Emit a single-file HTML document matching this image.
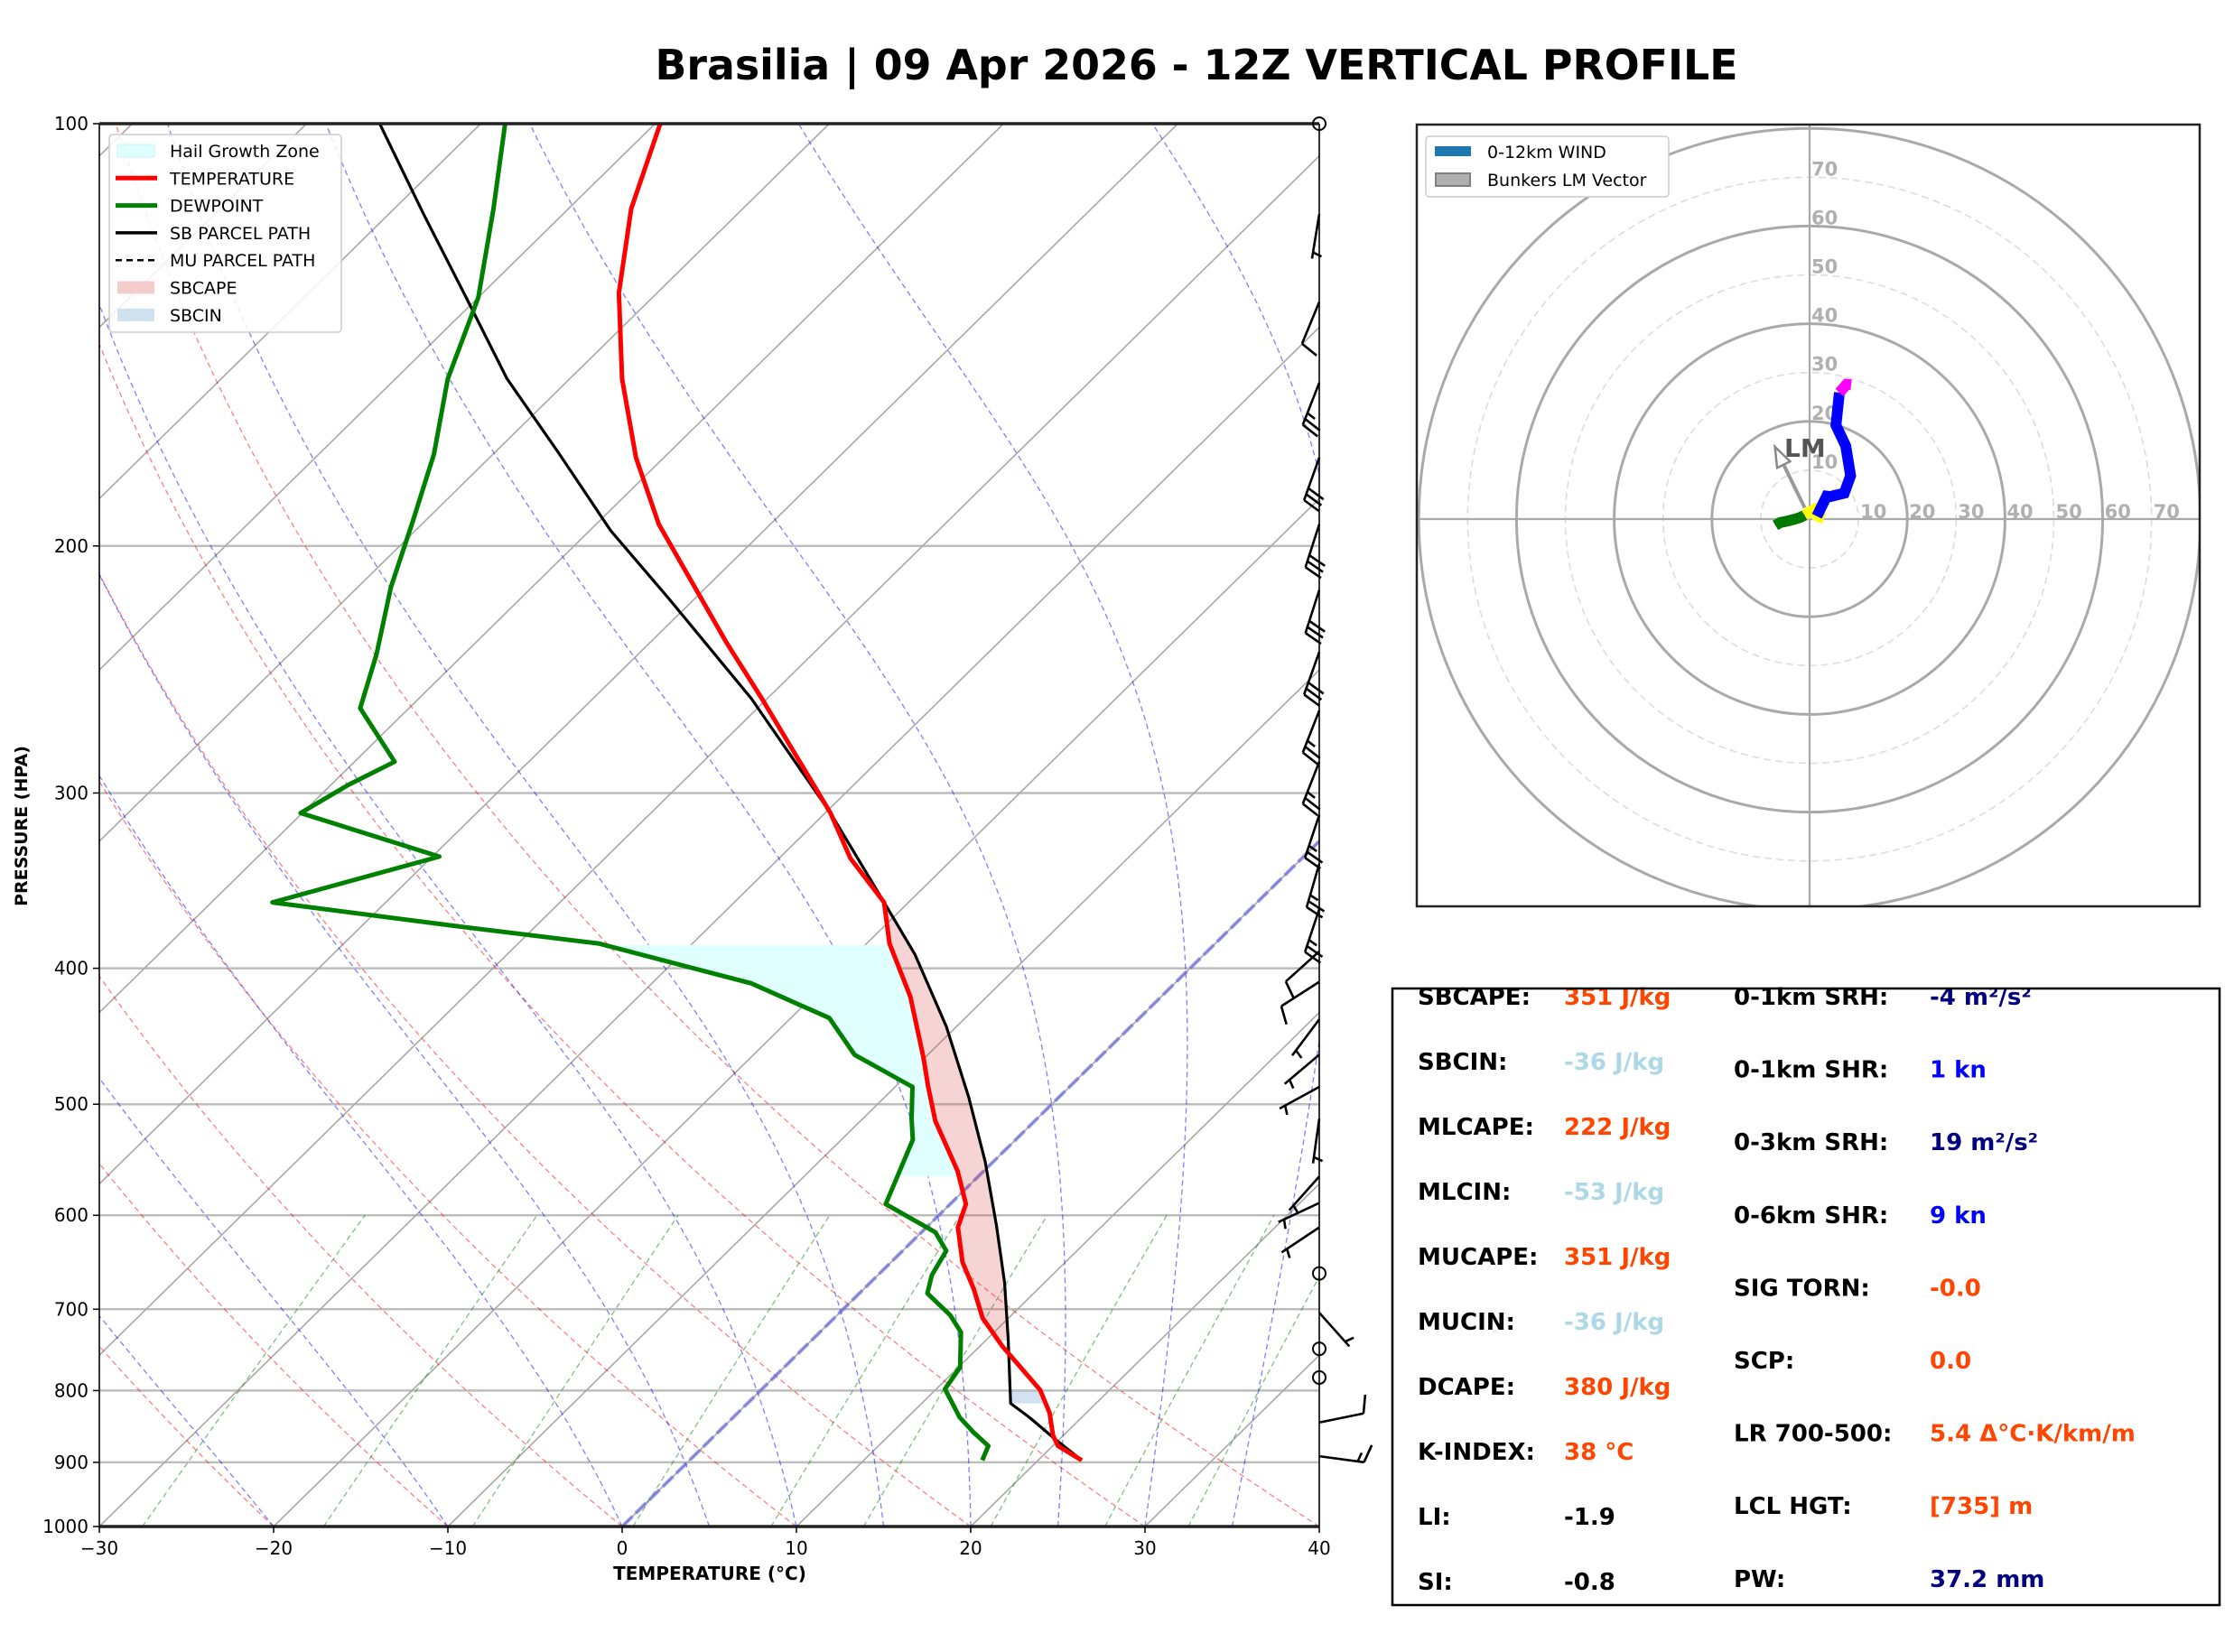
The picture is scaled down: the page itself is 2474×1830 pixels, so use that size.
<!DOCTYPE html>
<html><head><meta charset="utf-8"><style>
html,body{margin:0;padding:0;background:#fff;}
svg{display:block;font-family:"DejaVu Sans","Liberation Sans",sans-serif;}
</style></head><body>
<svg id="fig" width="2474" height="1830" viewBox="0 0 2474 1830" xmlns="http://www.w3.org/2000/svg">
<rect x="0" y="0" width="2474" height="1830" fill="#fff"/>
<text x="1325" y="88" text-anchor="middle" font-size="46" font-weight="bold" textLength="1199" lengthAdjust="spacingAndGlyphs">Brasilia | 09 Apr 2026 - 12Z VERTICAL PROFILE</text>
<defs>
<clipPath id="skewclip"><rect x="110" y="137" width="1351" height="1554"/></clipPath>
<clipPath id="hodoclip"><rect x="1569" y="138" width="867" height="866"/></clipPath>
</defs>
<g id="skewt"></g>
<g id="hodo"></g>
<g id="stats"></g>
</svg>
<script>
// ---------- data ----------
const tempP=[897,876,861,830,799,744,710,677,648,612,589,558,514,486,463,419,384,359,334,310,257,234,193,173,152,132,115,100];
const tempT=[22.5,20.3,19.4,17.9,16.0,11.3,8.5,6.3,4.1,1.8,0.9,-1.5,-5.7,-8.1,-10.1,-14.4,-18.7,-21.4,-25.9,-29.7,-40.3,-45.7,-56.4,-61.6,-67.0,-72.2,-76.4,-79.7];
const dewP=[897,876,856,836,798,770,727,707,682,662,636,617,589,530,512,486,461,434,410,384,373,359,333,310,296,285,261,239,214,192,172,152,133,115,100];
const dewT=[16.8,16.3,14.6,13.0,10.5,10.1,8.1,6.5,3.9,3.1,2.5,0.8,-3.7,-5.9,-7.2,-9.0,-14.2,-17.8,-24.3,-35.4,-44.8,-56.5,-49.6,-60.1,-59.0,-57.7,-62.8,-65.0,-68.1,-70.7,-73.4,-77.0,-80.0,-84.3,-88.6];
const parcelP=[897,866,836,817,735,670,610,549,494,440,391,359,310,257,218,195,172,152,133,116,100];
const parcelT=[22.5,19.7,17.0,15.1,11.2,7.7,3.9,-0.5,-5.2,-10.6,-16.6,-21.4,-29.7,-40.9,-51.5,-58.8,-66.2,-73.6,-80.7,-88.0,-95.8];
const barbP=[116,134,153,173,193,215,238,262,285,311,337,363,389,409,435,461,486,512,563,588,612,704,843,891];
const barbU=[0.8,3.8,9,10,9,9,10,9,9,8,7,8,7.4,8.4,3,3.8,4.4,0.7,3.3,4.5,4.2,-3.3,-9.8,-14.8];
const barbV=[4.9,9.2,23,28,28,28,28,23,23,24,24,24,6.7,5.4,4,3.2,2.4,5,3.7,2.1,2.8,3.7,-2,2];
const calmP=[100,660,747,783];
const pressureTicks=[100,200,300,400,500,600,700,800,900,1000];
const tempTicks=[-30,-20,-10,0,10,20,30,40];
const hodoGreenU=[-7,-6,-4.5,-3,-2,-1];
const hodoGreenV=[-1.3,-0.7,-0.4,0,0.3,0.8];
const hodoYellowU=[-1,0,1,2,1.5];
const hodoYellowV=[0.8,1.5,2,0.7,-0.5];
const hodoBlueU=[1.5,2,3.5,4.2,7.1,8.4,7.4,5.4,6.1];
const hodoBlueV=[0.6,1.6,4.7,4.6,5.3,8.9,15,19.2,25.9];
const hodoMagU=[6.1,7.6,8.5];
const hodoMagV=[25.9,27.6,27.5];
const lmVector=[-7.1,14.8];
const hodoRings=[10,20,30,40,50,60,70,80];
const hodoLabels=[10,20,30,40,50,60,70];

const NS="http://www.w3.org/2000/svg";
function mk(tag,attrs,parent,text){const e=document.createElementNS(NS,tag);for(const k in attrs)e.setAttribute(k,attrs[k]);if(text!==undefined)e.textContent=text;parent.appendChild(e);return e;}

// ---------- skew-T axes ----------
const X0=110,X1=1461,Y0=137,Y1=1691,PXC=19.3,DEC=1554,SKEW=1.017;
function yP(p){return Y1-Math.log10(1000/p)*DEC;}
function xT(T,p){return X0+(T+30)*PXC+(Y1-yP(p))*SKEW;}
const sk=document.getElementById('skewt');
const bg=mk('g',{'clip-path':'url(#skewclip)'},sk);


function line(pts,attrs,parent){return mk('polyline',Object.assign({points:pts.map(q=>q[0].toFixed(1)+','+q[1].toFixed(1)).join(' '),fill:'none'},attrs),parent);}
for(const p of [200,300,400,500,600,700,800,900]){
  const l=mk('line',{x1:X0,x2:X1,y1:yP(p),y2:yP(p),stroke:'#bdbdbd','stroke-width':2.5},bg);
  
  
}
for(let T=-160;T<=40;T+=10){
  const l=line([[xT(T,1000),yP(1000)],[xT(T,100),yP(100)]],{stroke:'#a8a8a8','stroke-width':1.6},bg);
  
  
}
for(let t0=-30;t0<=40;t0+=10){
  const pts=[];for(let p=1000;p>=100;p-=10){const T=(t0+273.15)*Math.pow(p/1000,0.2857)-273.15;pts.push([xT(T,p),yP(p)]);}
  const l=line(pts,{stroke:'#ff0000','stroke-opacity':0.5,'stroke-width':1.3,'stroke-dasharray':'6,4'},bg);
  
  
}
function es(Tc){return 6.112*Math.exp(17.67*Tc/(Tc+243.5));}
for(const t0 of [-30,-20,-10,0,5,10,15,20,25,30,35]){
  let T=t0+273.15;const pts=[];
  for(let p=1000;p>=100;p-=2){
    pts.push([xT(T-273.15,p),yP(p)]);
    const e=es(T-273.15),rs=0.622*e/(p-e);
    const dTdp=(287*T+2.5e6*rs)/(1005+2.5e6*2.5e6*rs*0.622/(287*T*T))/p;
    T-=dTdp*2;
  }
  const l=line(pts,{stroke:'#0000ff','stroke-opacity':0.5,'stroke-width':1.3,'stroke-dasharray':'6,4'},bg);
  
  
}
for(const w of [0.0004,0.001,0.002,0.004,0.007,0.01,0.016,0.024,0.032]){
  const pts=[];for(let p=1000;p>=600;p-=10){const e=w*p/(0.622+w);const a=Math.log(e/6.112);const Td=243.5*a/(17.67-a);pts.push([xT(Td,p),yP(p)]);}
  const l=line(pts,{stroke:'#008000','stroke-opacity':0.5,'stroke-width':1.3,'stroke-dasharray':'6,4'},bg);
  
  
}
{const l=line([[xT(0,1000),yP(1000)],[xT(0,100),yP(100)]],{stroke:'#6060e0','stroke-opacity':0.6,'stroke-width':4,'stroke-dasharray':'16,5'},bg);

}

function interp(P,V,p){for(let i=0;i<P.length-1;i++){const a=P[i],b=P[i+1];if((p<=a&&p>=b)||(p>=a&&p<=b)){const f=(Math.log(p)-Math.log(a))/(Math.log(b)-Math.log(a));return V[i]+f*(V[i+1]-V[i]);}}return p>P[0]?V[0]:V[V.length-1];}
function fillBetween(P1,V1,P2,V2,pb,pt,color,name){
  const a=[],b=[];for(let p=pb;p>=pt-0.01;p-=2){a.push([xT(interp(P1,V1,p),p),yP(p)]);b.push([xT(interp(P2,V2,p),p),yP(p)]);}
  const pts=a.concat(b.reverse());
  const e=mk('polygon',{points:pts.map(q=>q[0].toFixed(1)+','+q[1].toFixed(1)).join(' '),fill:color,stroke:'none'},bg);
  
  
}
fillBetween(dewP,dewT,tempP,tempT,563,384,'#e0ffff','hail-growth-zone');
fillBetween(parcelP,parcelT,tempP,tempT,737,359,'rgba(220,60,60,0.22)','sbcape-fill');
fillBetween(parcelP,parcelT,tempP,tempT,817,800,'rgba(80,140,200,0.25)','sbcin-fill');

function prof(P,V,attrs,name){const pts=P.map((p,i)=>[xT(V[i],p),yP(p)]);const e=line(pts,attrs,bg);return e;}
prof(parcelP,parcelT,{stroke:'#000','stroke-width':3.2,'stroke-linejoin':'round'},'sb-parcel-path');
prof(parcelP,parcelT,{stroke:'#000','stroke-width':2,'stroke-dasharray':'7,4'},'mu-parcel-path');
prof(tempP,tempT,{stroke:'#ff0000','stroke-width':5,'stroke-linejoin':'round'},'temperature-line');
prof(dewP,dewT,{stroke:'#008000','stroke-width':5,'stroke-linejoin':'round'},'dewpoint-line');

mk('line',{x1:X0,x2:X0,y1:Y0,y2:Y1,stroke:'#000','stroke-width':1.6},sk);
mk('line',{x1:X1,x2:X1,y1:Y0,y2:Y1,stroke:'#000','stroke-width':1.6},sk);
mk('line',{x1:X0,x2:X1,y1:Y0,y2:Y0,stroke:'#222','stroke-width':3.5},sk);
mk('line',{x1:X0,x2:X1,y1:Y1,y2:Y1,stroke:'#222','stroke-width':3.5},sk);
for(const p of pressureTicks){
  mk('line',{x1:X0-7,x2:X0,y1:yP(p),y2:yP(p),stroke:'#000','stroke-width':1.5},sk);
  const t=mk('text',{x:X0-12,y:yP(p)+7,'text-anchor':'end','font-size':20},sk,String(p));
  
  
}
for(const T of tempTicks){
  const x=xT(T,1000);
  mk('line',{x1:x,x2:x,y1:Y1,y2:Y1+7,stroke:'#000','stroke-width':1.5},sk);
  const t=mk('text',{x:x,y:1722,'text-anchor':'middle','font-size':20},sk,T<0?'\u2212'+Math.abs(T):String(T));
  
  
}
{const t=mk('text',{x:786,y:1750,'text-anchor':'middle','font-size':20,'font-weight':'bold'},sk,'TEMPERATURE (°C)');

const t2=mk('text',{x:0,y:0,'text-anchor':'middle','font-size':19,'font-weight':'bold',transform:'translate(30,915) rotate(-90)'},sk,'PRESSURE (HPA)');
}

function barb(p,u,v){
  const g=mk('g',{},sk);
  
  
  const s=Math.hypot(u,v);const bx=X1,by=yP(p);
  const dx=-u/s,dy=v/s;const L=50;
  const tx=bx+dx*L,ty=by+dy*L;
  mk('line',{x1:bx,y1:by,x2:tx,y2:ty,stroke:'#000','stroke-width':2.6},g);
  const fx=dy,fy=-dx;
  let spd=Math.round(s/5)*5;let pos=0;
  const full=Math.floor(spd/10),half=(spd%10)>=5?1:0;
  for(let i=0;i<full;i++){const px=tx-dx*pos*7,py=ty-dy*pos*7;mk('line',{x1:px,y1:py,x2:px+fx*20+dx*6,y2:py+fy*20+dy*6,stroke:'#000','stroke-width':2.6},g);pos++;}
  if(half){if(pos===0)pos=1;const px=tx-dx*pos*7,py=ty-dy*pos*7;mk('line',{x1:px,y1:py,x2:px+fx*10+dx*3,y2:py+fy*10+dy*3,stroke:'#000','stroke-width':2.6},g);}
}
barbP.forEach((p,i)=>barb(p,barbU[i],barbV[i]));
for(const p of calmP){const c=mk('circle',{cx:X1,cy:yP(p),r:7,fill:'none',stroke:'#000','stroke-width':2},sk);}

{const lg=mk('g',{},sk);
mk('rect',{x:121,y:149,width:257,height:219,rx:4,fill:'#fff','fill-opacity':0.85,stroke:'#ccc','stroke-width':1.5},lg);
const items=[['Hail Growth Zone','patch','#e0ffff'],['TEMPERATURE','line','#ff0000'],['DEWPOINT','line','#008000'],['SB PARCEL PATH','line','#000'],['MU PARCEL PATH','dash','#000'],['SBCAPE','patch','#f4cccc'],['SBCIN','patch','#cfe0ee']];
items.forEach((it,i)=>{const y=167+i*30.3;
 if(it[1]==='patch')mk('rect',{x:130,y:y-7,width:41,height:14,fill:it[2],stroke:it[0]==='Hail Growth Zone'?'#c8f4f4':'none'},lg);
 else if(it[1]==='line')mk('line',{x1:128,x2:174,y1:y,y2:y,stroke:it[2],'stroke-width':it[0]==='SB PARCEL PATH'?3.5:5},lg);
 else mk('line',{x1:128,x2:174,y1:y,y2:y,stroke:it[2],'stroke-width':2.5,'stroke-dasharray':'7,5'},lg);
 const t=mk('text',{x:188,y:y+7,'font-size':19},lg,it[0]);});
}

// ---------- hodograph ----------
const hd=document.getElementById('hodo');
const HX=2004,HY=575,HS=5.41;
function hx(u){return HX+u*HS;}function hy(v){return HY-v*HS;}
const hc=mk('g',{'clip-path':'url(#hodoclip)'},hd);
for(const r of hodoRings){const solid=r%20===0;const c=mk('circle',{cx:HX,cy:HY,r:r*HS,fill:'none',stroke:solid?'#a9a9a9':'#dcdcdc','stroke-width':solid?3:1.6,'stroke-dasharray':solid?'none':'8,5'},hc);}
mk('line',{x1:1568,x2:2437,y1:HY,y2:HY,stroke:'#a9a9a9','stroke-width':2.2},hc);
mk('line',{x1:HX,x2:HX,y1:137,y2:1004,stroke:'#a9a9a9','stroke-width':2.2},hc);
for(const r of hodoLabels){
 const a=mk('text',{x:hx(r)+2,y:HY-1,'font-size':21,'font-weight':'bold',fill:'#b0b0b0'},hc,String(r));
 const b=mk('text',{x:HX+2,y:hy(r)-2,'font-size':21,'font-weight':'bold',fill:'#b0b0b0'},hc,String(r));}
function hline(U,V,col,name){const e=line(U.map((u,i)=>[hx(u),hy(V[i])]),{stroke:col,'stroke-width':12,'stroke-linejoin':'miter'},hc);}
hline(hodoGreenU,hodoGreenV,'#007a00','hodo-trace-0-1km');
hline(hodoYellowU,hodoYellowV,'#ffff00','hodo-trace-1-3km');
hline(hodoBlueU,hodoBlueV,'#0000ff','hodo-trace-3-10km');
hline(hodoMagU,hodoMagV,'#ff00ff','hodo-trace-10-12km');
{const x2=hx(lmVector[0]),y2=hy(lmVector[1]),x1=hx(-1),y1=hy(2.3);
 const g=mk('g',{},hc);
 const ang=Math.atan2(y2-y1,x2-x1);const L=22,W=8;
 const bx=x2-Math.cos(ang)*L,by=y2-Math.sin(ang)*L;
 mk('line',{x1:x1,y1:y1,x2:bx,y2:by,stroke:'#999','stroke-width':4},g);
 mk('polygon',{points:`${x2},${y2} ${bx+Math.sin(ang)*W},${by-Math.cos(ang)*W} ${bx-Math.sin(ang)*W},${by+Math.cos(ang)*W}`,fill:'#fff',stroke:'#888','stroke-width':2.5},g);
 const t=mk('text',{x:1976,y:506,'font-size':28,'font-weight':'bold',fill:'#555'},hc,'LM');}
mk('rect',{x:1569,y:138,width:867,height:866,fill:'none',stroke:'#222','stroke-width':2.5},hd);
{const lg=mk('g',{},hd);
mk('rect',{x:1579,y:151,width:269,height:67,rx:4,fill:'#fff',stroke:'#ccc','stroke-width':1.5},lg);
mk('rect',{x:1589,y:162,width:40,height:11,fill:'#1f77b4'},lg);
mk('rect',{x:1590,y:192,width:38,height:14,fill:'#b0b0b0',stroke:'#808080','stroke-width':2},lg);
const a=mk('text',{x:1647,y:175,'font-size':19},lg,'0-12km WIND');
const b=mk('text',{x:1647,y:206,'font-size':19},lg,'Bunkers LM Vector');}

// ---------- stats ----------
const st=document.getElementById('stats');
const leftRows=[['SBCAPE:','351 J/kg','#ff4500'],['SBCIN:','-36 J/kg','#add8e6'],['MLCAPE:','222 J/kg','#ff4500'],['MLCIN:','-53 J/kg','#add8e6'],['MUCAPE:','351 J/kg','#ff4500'],['MUCIN:','-36 J/kg','#add8e6'],['DCAPE:','380 J/kg','#ff4500'],['K-INDEX:','38 °C','#ff4500'],['LI:','-1.9','#000'],['SI:','-0.8','#000']];
const rightRows=[['0-1km SRH:','-4 m²/s²','#000080'],['0-1km SHR:','1 kn','#0000ff'],['0-3km SRH:','19 m²/s²','#000080'],['0-6km SHR:','9 kn','#0000ff'],['SIG TORN:','-0.0','#ff4500'],['SCP:','0.0','#ff4500'],['LR 700-500:','5.4 Δ°C·K/km/m','#ff4500'],['LCL HGT:','[735] m','#ff4500'],['PW:','37.2 mm','#000080']];
leftRows.forEach((r,i)=>{const y=1113+i*72;
 const a=mk('text',{x:1570,y:y,'font-size':26,'font-weight':'bold'},st,r[0]);
 const b=mk('text',{x:1732,y:y,'font-size':26,'font-weight':'bold',fill:r[2]},st,r[1]);});
rightRows.forEach((r,i)=>{const y=1113+i*80.6;
 const a=mk('text',{x:1920,y:y,'font-size':26,'font-weight':'bold'},st,r[0]);
 const b=mk('text',{x:2137,y:y,'font-size':26,'font-weight':'bold',fill:r[2]},st,r[1]);});
mk('rect',{x:1542,y:1095,width:916,height:683,fill:'none',stroke:'#000','stroke-width':2.5},st);
</script>
</body></html>
